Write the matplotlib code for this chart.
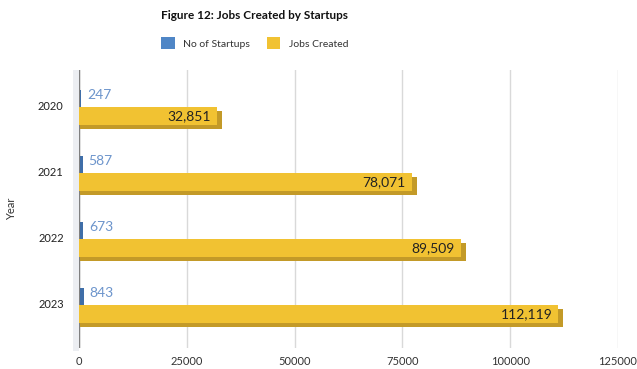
import matplotlib.pyplot as plt
import matplotlib.transforms as mtransforms
from matplotlib.patches import Patch, Rectangle
import numpy as np

years = ['2020', '2021', '2022', '2023']
startups = [247, 587, 673, 843]
jobs = [32851, 78071, 89509, 112119]

blue = '#4f86c6'
blue_dark = '#3f6ea8'
gold = '#f1c232'
gold_dark = '#c39a28'

plt.rcParams['font.family'] = ['Lato', 'DejaVu Sans']

fig = plt.figure(figsize=(6.37, 3.69), dpi=100)

# light wall strip left of the value axis
fig.add_artist(Rectangle((73 / 637, 0.05), 6 / 637, 0.76, transform=fig.transFigure,
                         facecolor='#eceef2', edgecolor='none', zorder=0))

ax = fig.add_axes([0.124, 0.057, 0.846, 0.753])
ax.set_facecolor('none')
ax.set_zorder(1)

y = np.arange(len(years))
h = 0.27
off = 0.16


def shifted(dx, dy):
    # pixel offset on top of data coords, used for the pseudo 3D look
    return ax.transData + mtransforms.ScaledTranslation(dx / 100, dy / 100, fig.dpi_scale_trans)


for vals, pos, face, side in [(startups, y - off, blue, blue_dark),
                              (jobs, y + off, gold, gold_dark)]:
    ax.barh(pos, vals, height=h, color=side, transform=shifted(1, -4), zorder=2)
    ax.barh(pos, vals, height=h, color=face, transform=shifted(-4, 0), zorder=3)

for i in range(len(years)):
    ax.annotate(f'{startups[i]}', (startups[i], y[i] - off), xytext=(7, 0),
                textcoords='offset pixels', ha='left', va='center',
                color='#6d95cc', fontsize=10, zorder=4)
    ax.annotate(f'{jobs[i]:,}', (jobs[i], y[i] + off), xytext=(-10, 0),
                textcoords='offset pixels', ha='right', va='center',
                color='#222222', fontsize=10, zorder=4)

ax.axvline(0, color='#808080', lw=1, zorder=1)

ax.set_xlim(0, 125000)
ax.set_ylim(3.67, -0.54)
ax.set_xticks([0, 25000, 50000, 75000, 100000, 125000])
ax.set_yticks(y)
ax.set_yticklabels(years)
ax.grid(axis='x', color='#d9d9d9', lw=1, zorder=0)
ax.set_axisbelow(True)
for s in ax.spines.values():
    s.set_visible(False)
ax.tick_params(length=0, labelsize=8)
ax.tick_params(axis='x', pad=6, colors='#333333')
ax.tick_params(axis='y', pad=11, colors='#222222')
ax.set_ylabel('Year', fontsize=8, color='#333333', labelpad=15)

fig.text(0.40, 0.958, 'Figure 12: Jobs Created by Startups', ha='center', va='center',
         fontsize=8.5, fontweight='bold', color='#111111')
handles = [Patch(facecolor=blue, label='No of Startups'),
           Patch(facecolor=gold, label='Jobs Created')]
fig.legend(handles=handles, loc='center', bbox_to_anchor=(0.40, 0.883), ncol=2,
           frameon=False, fontsize=7.5, handlelength=1.3, handleheight=1.3,
           columnspacing=1.6, handletextpad=0.8, labelcolor='#333333')

fig.savefig('out.png', dpi=100)
